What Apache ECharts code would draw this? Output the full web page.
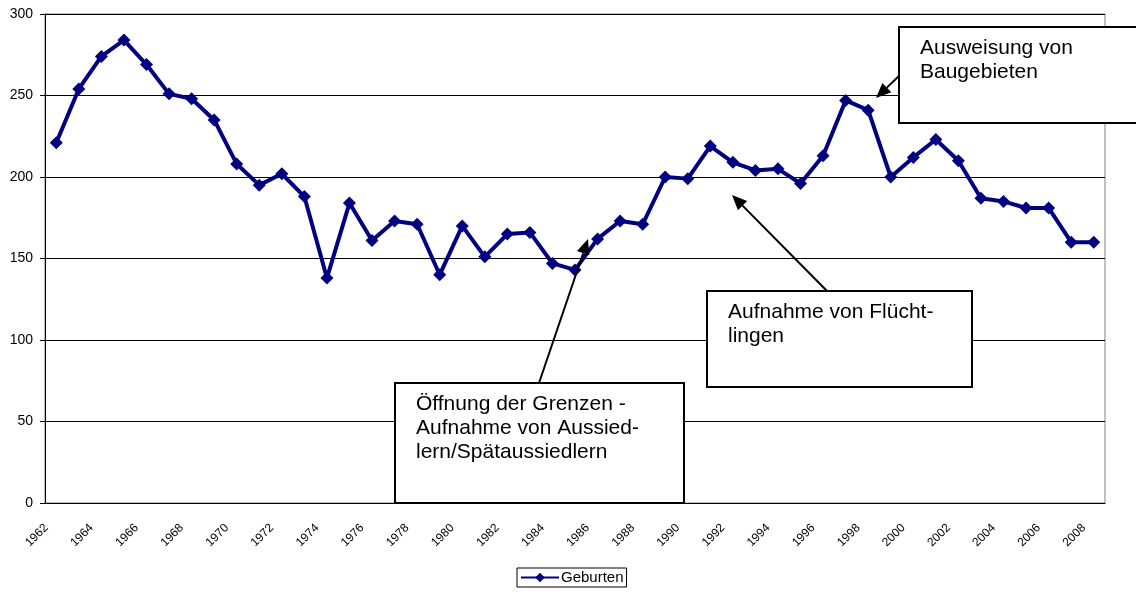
<!DOCTYPE html>
<html>
<head>
<meta charset="utf-8">
<script src="https://cdn.jsdelivr.net/npm/echarts@6/dist/echarts.min.js"></script>
<style>
  html, body { margin: 0; padding: 0; background: #fff; }
  #main { width: 1136px; height: 592px; }
</style>
</head>
<body>
<div id="main"></div>
<script>
var years = [];
for (var y = 1962; y <= 2008; y++) years.push(String(y));

var geburten = [221, 254, 274, 284, 269, 251, 248, 235, 208, 195,
                202, 188, 138, 184, 161, 173, 171, 140, 170, 151,
                165, 166, 147, 143, 162, 173, 171, 200, 199, 219,
                209, 204, 205, 196, 213, 247, 241, 200, 212, 223,
                210, 187, 185, 181, 181, 160, 160];

var yTicks = { min: 0, max: 300, step: 50 };

var FONT = '"Liberation Sans", Arial, sans-serif';

// pfeil: linie + spitze
function arrow(x1, y1, x2, y2) {
    var a = Math.atan2(y2 - y1, x2 - x1), L = 15, W = 6.5;
    var bx = x2 - L * Math.cos(a), by = y2 - L * Math.sin(a);
    return [{
        type: 'line', z: 20,
        shape: { x1: x1, y1: y1, x2: bx, y2: by },
        style: { stroke: '#000', lineWidth: 2 }
    }, {
        type: 'polygon', z: 20,
        shape: { points: [[x2, y2],
            [bx + W * Math.sin(a), by - W * Math.cos(a)],
            [bx - W * Math.sin(a), by + W * Math.cos(a)]] },
        style: { fill: '#000' }
    }];
}

function note(x, y, w, h, text) {
    return [{
        type: 'rect', z: 21,
        shape: { x: x, y: y, width: w, height: h },
        style: { fill: '#fff', stroke: '#000', lineWidth: 2 }
    }, {
        type: 'text', z: 22,
        x: x + 21, y: y + 9,
        style: { text: text, font: '21px ' + FONT, fill: '#000', lineHeight: 24 }
    }];
}

var graphics = []
    .concat(arrow(900, 75, 876, 98))
    .concat(arrow(827, 291, 732, 195))
    .concat(arrow(539, 383, 588, 239))
    .concat(note(899, 27, 260, 96, 'Ausweisung von\nBaugebieten'))
    .concat(note(707, 291, 265, 96, 'Aufnahme von Flücht-\nlingen'))
    .concat(note(395, 383, 289, 120, 'Öffnung der Grenzen -\nAufnahme von Aussied-\nlern/Spätaussiedlern'));

var chart = echarts.init(document.getElementById('main'), null, { renderer: 'canvas' });
chart.setOption({
    animation: false,
    backgroundColor: '#fff',
    textStyle: { fontFamily: FONT },
    grid: {
        left: 45, right: 31, top: 14, bottom: 89,
        show: true, borderColor: '#808080', borderWidth: 1
    },
    legend: {
        data: ['Geburten'],
        left: 517, top: 568,
        borderColor: '#000', borderWidth: 1,
        padding: [2, 3, 2, 3],
        itemWidth: 38, itemHeight: 12, itemGap: 2,
        textStyle: { color: '#000', fontSize: 15, fontFamily: FONT, padding: [0, 0, 0, -3] }
    },
    xAxis: {
        type: 'category',
        data: years,
        boundaryGap: true,
        axisLine: { lineStyle: { color: '#000', width: 1 } },
        axisTick: { interval: 0, length: 4, lineStyle: { color: '#000' } },
        axisLabel: {
            interval: 1, rotate: 45, color: '#000', fontSize: 12,
            fontFamily: FONT, margin: 13, padding: [0, 14, 0, 0]
        },
        splitLine: { show: false }
    },
    yAxis: {
        type: 'value',
        min: yTicks.min, max: yTicks.max, interval: yTicks.step,
        axisLine: { show: true, lineStyle: { color: '#000', width: 1 } },
        axisTick: { show: true, length: 5, lineStyle: { color: '#000' } },
        axisLabel: { color: '#000', fontSize: 14, fontFamily: FONT, margin: 12 },
        splitLine: { lineStyle: { color: '#000', width: 1 } }
    },
    series: [{
        name: 'Geburten',
        type: 'line',
        data: geburten,
        symbol: 'diamond',
        symbolSize: 13,
        lineStyle: { color: '#000080', width: 4 },
        itemStyle: { color: '#000080', borderWidth: 0 }
    }],
    graphic: graphics
});
</script>
</body>
</html>
